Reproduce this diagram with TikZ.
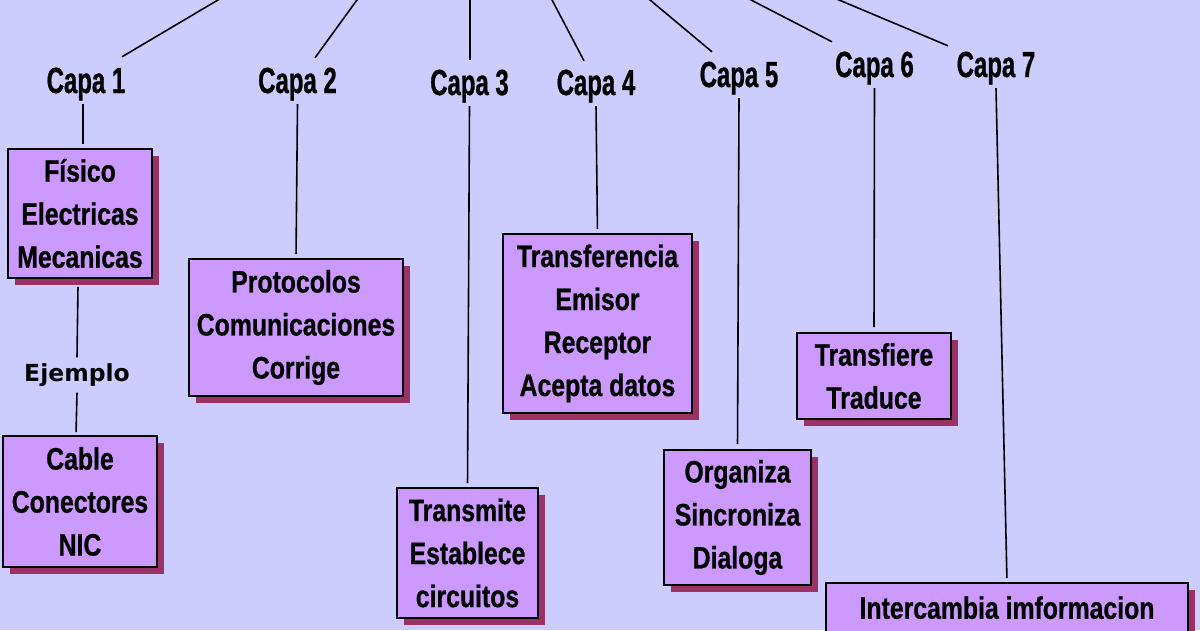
\documentclass[tikz,border=0pt]{standalone}
\usepackage{fontspec}
\newfontfamily\boxfnt{Liberation Sans}[UprightFont={* Bold}, FakeStretch=0.8, FakeBold=0.8]
\newfontfamily\capfnt{Liberation Sans}[UprightFont={* Bold}, FakeStretch=0.66, FakeBold=0.8]
\newfontfamily\ejfnt{DejaVu Sans}[UprightFont={* Bold}]
\usetikzlibrary{shadows,calc}
\definecolor{bgc}{HTML}{CCCCFF}
\definecolor{boxc}{HTML}{CC99FF}
\definecolor{shc}{HTML}{993366}
\begin{document}
\begin{tikzpicture}[x=1pt,y=-1pt,
  capa/.style={font=\capfnt\fontsize{36.3}{40}\selectfont, text height=26pt, text depth=11pt, inner sep=0pt, anchor=base},
  cbox/.style={draw=black, line width=1.6pt, fill=boxc, align=center, inner sep=0pt,
    font=\boxfnt\fontsize{31}{43}\selectfont,
    general shadow={fill=shc, shadow xshift=7pt, shadow yshift=-7pt}},
  link/.style={draw=black, line width=1.6pt},
]
\fill[bgc] (0,0) rectangle (1200,630);
\useasboundingbox (0,0) rectangle (1200,630);

% layer labels
\node[capa] (c1) at (86,93) {Capa 1};
\node[capa] (c2) at (297.5,93) {Capa 2};
\node[capa] (c3) at (469.5,95) {Capa 3};
\node[capa] (c4) at (596,95) {Capa 4};
\node[capa] (c5) at (739,87) {Capa 5};
\node[capa] (c6) at (874.5,77) {Capa 6};
\node[capa] (c7) at (996,77) {Capa 7};

% free ends of the top connectors
\coordinate (r1) at (234.8,-10);
\coordinate (r2) at (364.2,-10);
\coordinate (r3) at (470,-10);
\coordinate (r4) at (546.8,-10);
\coordinate (r5) at (638.1,-10);
\coordinate (r6) at (731.7,-10);
\coordinate (r7) at (815.3,-10);

% boxes
\node[cbox, minimum width=144pt, minimum height=129pt] (b1) at (80,213.5) {Físico\\Electricas\\Mecanicas};
\node[cbox, minimum width=154pt, minimum height=131pt] (b1b) at (80,501.5) {Cable\\Conectores\\NIC};
\node[cbox, minimum width=214pt, minimum height=137pt] (b2) at (296,327.5) {Protocolos\\Comunicaciones\\Corrige};
\node[cbox, minimum width=141pt, minimum height=130pt] (b3) at (467.5,553) {Transmite\\Establece\\circuitos};
\node[cbox, minimum width=189pt, minimum height=179pt] (b4) at (597.5,323.5) {Transferencia\\Emisor\\Receptor\\Acepta datos};
\node[cbox, minimum width=147pt, minimum height=135pt] (b5) at (737.5,517.5) {Organiza\\Sincroniza\\Dialoga};
\node[cbox, minimum width=154pt, minimum height=86pt] (b6) at (874,376) {Transfiere\\Traduce};
\node[cbox, minimum width=362pt, text height=36pt, text depth=60pt, anchor=north] (b7) at (1007,582) {Intercambia imformacion};

\node[font=\ejfnt\fontsize{23.5}{25}\selectfont, inner sep=0pt, minimum height=35pt] (ej) at (77,375) {Ejemplo};

% connectors from the root
\draw[link] (r1) -- ($(c1.north)+(36,-10)$);
\draw[link] (r2) -- ($(c2.north)+(17.5,-9)$);
\draw[link] (r3) -- ($(c3.north)+(0.5,-9)$);
\draw[link] (r4) -- ($(c4.north)+(-12,-8)$);
\draw[link] (r5) -- ($(c5.north)+(-27,-9)$);
\draw[link] (r6) -- ($(c6.north)+(-42.5,-9)$);
\draw[link] (r7) -- ($(c7.north)+(-48,-5)$);

% connectors to the boxes
\draw[link, shorten >=4pt] ($(c1.south)+(-3,0)$) -- ($(b1.north)+(3,0)$);
\draw[link, shorten >=4pt] (c2.south) -- (b2.north);
\draw[link, shorten >=4pt] (c3.south) -- (b3.north);
\draw[link, shorten >=4pt] (c4.south) -- (b4.north);
\draw[link, shorten >=5pt] (c5.south) -- (b5.north);
\draw[link, shorten >=5pt] (c6.south) -- (b6.north);
\draw[link, shorten >=4pt] (c7.south) -- (b7.north);
\draw[link] ($(b1.south)+(-2,8)$) -- (ej.north);
\draw[link, shorten >=3pt] (ej.south) -- ($(b1b.north)+(-4,0)$);
\end{tikzpicture}
\end{document}
